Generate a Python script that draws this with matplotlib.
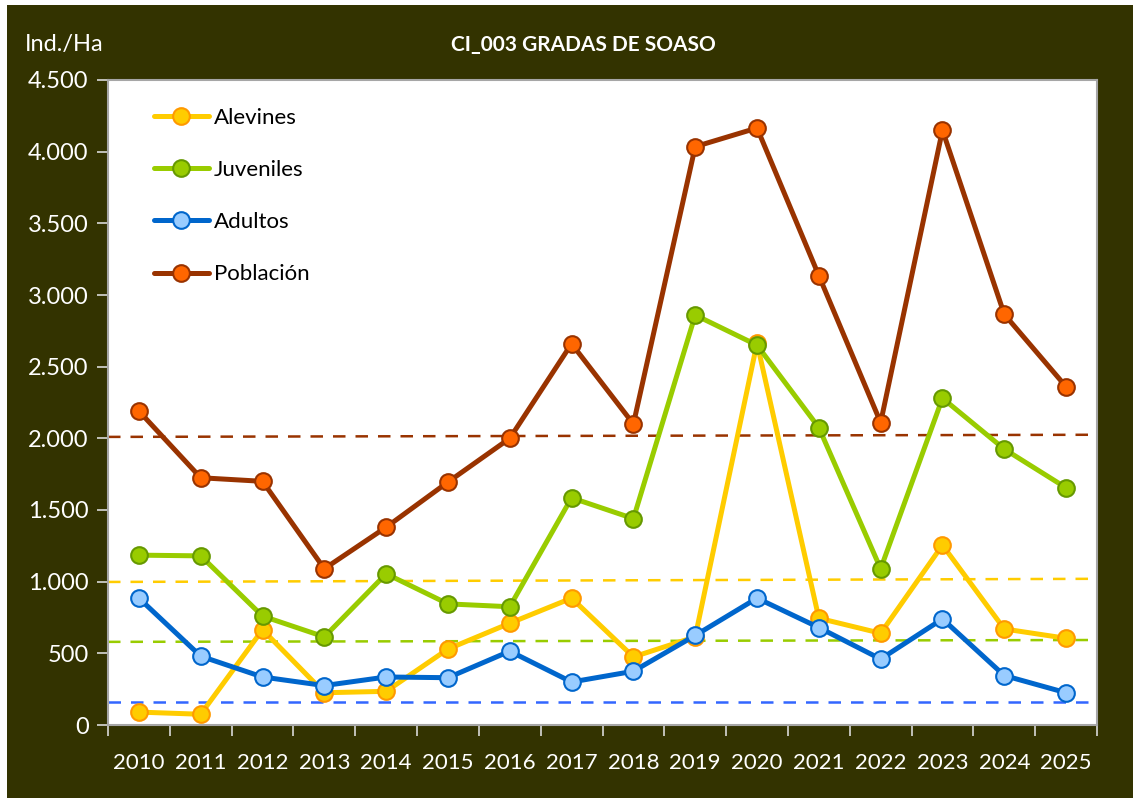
import matplotlib
matplotlib.use("Agg")
import matplotlib.pyplot as plt
from matplotlib.patches import Rectangle
from matplotlib.ticker import FuncFormatter, FixedLocator

plt.rcParams['font.family'] = ['Lato', 'DejaVu Sans']

# data
years = ['2010', '2011', '2012', '2013', '2014', '2015', '2016', '2017',
         '2018', '2019', '2020', '2021', '2022', '2023', '2024', '2025']
alevines = [90, 75, 665, 225, 235, 530, 710, 885, 475, 615, 2665, 745, 640, 1255, 670, 605]
juveniles = [1185, 1180, 760, 615, 1055, 845, 825, 1585, 1440, 2860, 2650, 2075, 1090, 2280, 1925, 1655]
adultos = [885, 480, 335, 275, 335, 330, 515, 300, 375, 625, 885, 680, 460, 740, 345, 225]
poblacion = [2190, 1725, 1700, 1090, 1380, 1695, 2000, 2660, 2100, 4035, 4165, 3135, 2110, 4150, 2865, 2360]

# reference (dashed) lines: value at left edge, value at right edge
ref_poblacion = [2010, 2025]
ref_alevines = [998, 1020]
ref_juveniles = [580, 593]
ref_adultos = [160, 160]

bg = '#333300'
fig = plt.figure(figsize=(11.33, 7.98), dpi=100, facecolor='white')
fig.patches.append(Rectangle((7 / 1133, 0), 1, 1 - 5 / 798, transform=fig.transFigure,
                             facecolor=bg, edgecolor='none', zorder=-10))
ax = fig.add_axes([108 / 1133, 1 - 725 / 798, (1097 - 108) / 1133, (725 - 80) / 798])
ax.set_facecolor('white')

x = list(range(len(years)))
xr = [-0.5, len(years) - 0.5]

ax.plot(xr, ref_poblacion, ls=(0, (5, 4)), color='#993300', lw=1.8, zorder=1)
ax.plot(xr, ref_alevines, ls=(0, (5, 4)), color='#FFCC00', lw=1.8, zorder=1)
ax.plot(xr, ref_juveniles, ls=(0, (5, 4)), color='#99CC00', lw=1.8, zorder=1)
ax.plot(xr, ref_adultos, ls=(0, (5, 4)), color='#3366FF', lw=1.8, zorder=1)

series = [
    ('Alevines', alevines, '#FFCC00', '#FFCC00', '#FF9900'),
    ('Juveniles', juveniles, '#99CC00', '#99CC00', '#669900'),
    ('Adultos', adultos, '#0066CC', '#99CCFF', '#0066CC'),
    ('Población', poblacion, '#993300', '#FF6600', '#993300'),
]
for i, (name, vals, lc, fc, ec) in enumerate(series):
    ax.plot(x, vals, color=lc, lw=3.6, marker='o', ms=12, mfc=fc, mec=ec, mew=1.5,
            label=name, zorder=3 + i, solid_capstyle='round')

ax.set_xlim(xr)
ax.set_ylim(0, 4500)
ax.set_yticks(range(0, 4501, 500))
ax.yaxis.set_major_formatter(FuncFormatter(lambda v, p: f'{int(v):,}'.replace(',', '.')))

ax.xaxis.set_major_locator(FixedLocator([i - 0.5 for i in range(len(years) + 1)]))
ax.xaxis.set_minor_locator(FixedLocator(x))
ax.set_xticklabels([])
ax.set_xticklabels(years, minor=True)
ax.tick_params(axis='x', which='minor', length=0, pad=20, labelsize=16, labelcolor='white')
ax.tick_params(axis='x', which='major', length=8, width=1.2, color='#D9D9D9', direction='out')
ax.tick_params(axis='y', length=8, width=1.2, color='#D9D9D9', direction='out',
               labelsize=17, labelcolor='white', pad=6)

for s in ax.spines.values():
    s.set_color('#A6A6A6')
    s.set_linewidth(1.5)

leg = ax.legend(loc='upper left', bbox_to_anchor=(0.026, 0.988), frameon=False,
                fontsize=16, labelspacing=1.45, handlelength=2.5, handletextpad=0.2)

fig.text(25 / 1133, 1 - 45 / 798, 'Ind./Ha', color='white', fontsize=17, va='center', ha='left')
fig.text(583 / 1133, 1 - 45 / 798, 'CI_003 GRADAS DE SOASO', color='white', fontsize=15,
         fontweight='bold', va='center', ha='center')

fig.savefig('out.png', dpi=100, facecolor=fig.get_facecolor())
